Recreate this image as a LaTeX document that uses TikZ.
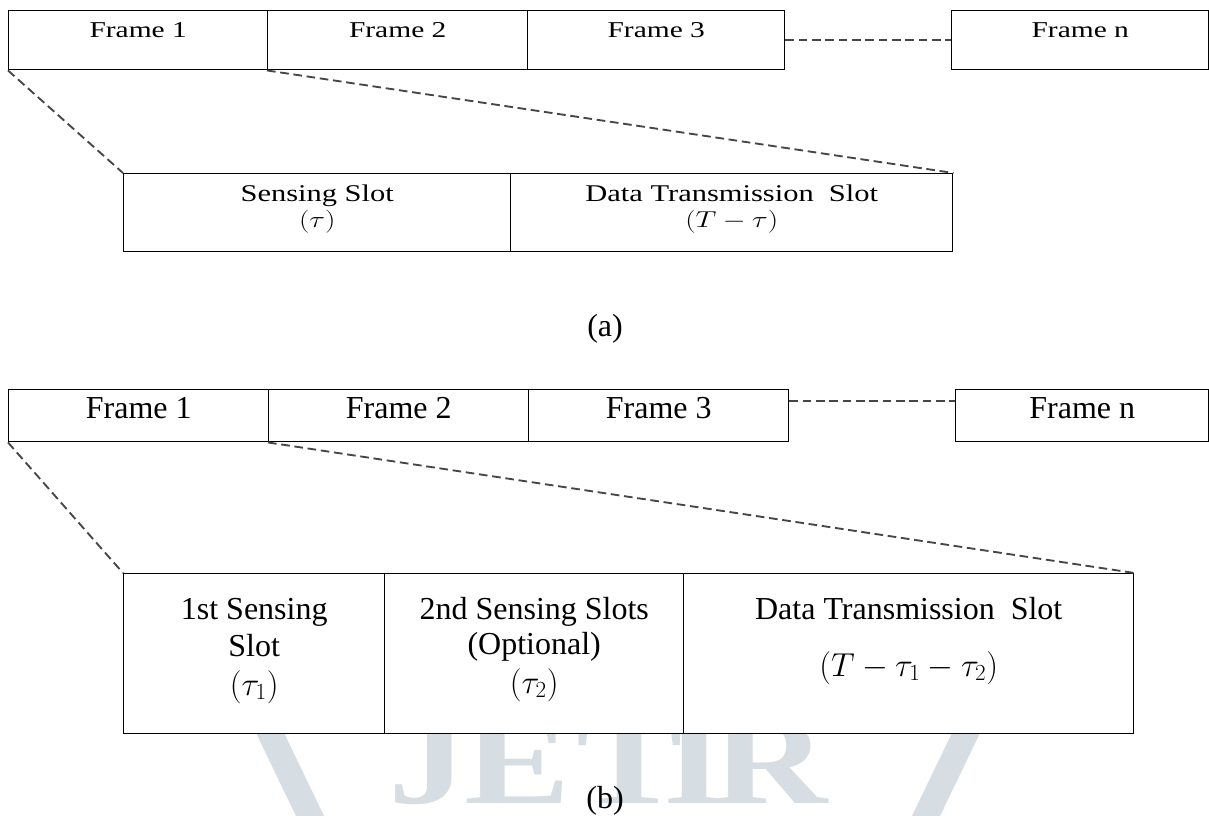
\documentclass[tikz,border=0pt]{standalone}
\usepackage{fontspec}
\usepackage{graphicx}
\setmainfont{Liberation Serif}
\usetikzlibrary{calc}
\definecolor{wmgray}{RGB}{214,222,228}
\definecolor{dashgray}{RGB}{70,70,70}
\newcommand{\widea}[1]{\scalebox{1.3}[1]{#1}}
\newcommand{\wideb}[1]{\scalebox{1.27}[1]{#1}}
\newcommand{\widewm}[1]{\scalebox{1.3}[1]{#1}}
\begin{document}
\begin{tikzpicture}[x=0.75pt,y=-0.75pt,
  box/.style 2 args={draw=black, line width=1.1pt, fill=white, inner sep=0pt,
    anchor=north west, minimum width={#1*0.75pt}, minimum height={#2*0.75pt}},
  link/.style={draw=dashgray, line width=1.4pt, dash pattern=on 6.5pt off 3.5pt},
  lblf/.style={font=\fontsize{17}{20}\selectfont, inner sep=0pt, anchor=base},
  lbls/.style={font=\fontsize{18}{21}\selectfont, inner sep=0pt, anchor=base},
  lblb/.style={font=\fontsize{24}{28}\selectfont, inner sep=0pt, anchor=base},
  wmletter/.style={text=wmgray, inner sep=0pt, anchor=base,
    font=\fontsize{92}{92}\selectfont\bfseries},
  wmbracket/.style={draw=wmgray, line width=19pt, line join=miter}]
\useasboundingbox (0,0) rectangle (1209,816);

% watermark, behind the slot boxes of (b)
\node[wmletter] (wmJ) at (428,803) {\widewm{J}};
\node[wmletter] (wmE) at (518,803) {\widewm{E}};
\node[wmletter] (wmT) at (630,803) {\widewm{T}};
\node[wmletter] (wmI) at (695,803) {\widewm{I}};
\node[wmletter] (wmR) at (770,803) {\widewm{R}};
\draw[wmbracket] (324,625) -- (271,735) -- (324,845);
\draw[wmbracket] (912,625) -- (965,735) -- (912,845);

% ---------------- (a) ----------------
\node[box={259}{59}] (fa1) at (8,10) {};
\node[box={260}{59}] (fa2) at (267,10) {};
\node[box={257}{59}] (fa3) at (527,10) {};
\node[box={257}{59}] (fan) at (951,10) {};

\node[box={387}{78}] (sa1) at (123,173) {};
\node[box={442}{78}] (sa2) at (510,173) {};

\draw[link] (fa3.east) -- (fan.west);
\draw[link] (fa1.south west) -- (sa1.north west);
\draw[link] (fa2.south west) -- (sa2.north east);

\node[lblf] (fa1t) at ($(fa1.north)+(0,28)$) {\widea{Frame 1}};
\node[lblf] (fa2t) at ($(fa2.north)+(0,28)$) {\widea{Frame 2}};
\node[lblf] (fa3t) at ($(fa3.north)+(0,28)$) {\widea{Frame 3}};
\node[lblf] (fant) at ($(fan.north)+(0,28)$) {\widea{Frame n}};

\node[lbls] (sa1t) at ($(sa1.north)+(0,29)$) {\wideb{Sensing Slot}};
\node[lbls] (sa1m) at ($(sa1.north)+(0,55)$) {\wideb{$(\tau)$}};
\node[lbls] (sa2t) at ($(sa2.north)+(0,29)$) {\wideb{Data Transmission\ \ Slot}};
\node[lbls] (sa2m) at ($(sa2.north)+(0,55)$) {\wideb{$(T-\tau)$}};

\node[lblb] (capa) at (605,337) {(a)};

% ---------------- (b) ----------------
\node[box={260}{52}] (fb1) at (8,389) {};
\node[box={260}{52}] (fb2) at (268,389) {};
\node[box={260}{52}] (fb3) at (528,389) {};
\node[box={253}{52}] (fbn) at (955,389) {};

\node[box={261}{160}] (sb1) at (123,573) {};
\node[box={299}{160}] (sb2) at (384,573) {};
\node[box={450}{160}] (sb3) at (683,573) {};

\coordinate (gb3) at ($(fb3.east)+(0,-15)$);
\coordinate (gbn) at ($(fbn.west)+(0,-15)$);
\draw[link] (gb3) -- (gbn);
\draw[link] (fb1.south west) -- (sb1.north west);
\draw[link] (fb2.south west) -- (sb3.north east);

\node[lblb] (fb1t) at ($(fb1.north)+(0,29)$) {Frame 1};
\node[lblb] (fb2t) at ($(fb2.north)+(0,29)$) {Frame 2};
\node[lblb] (fb3t) at ($(fb3.north)+(0,29)$) {Frame 3};
\node[lblb] (fbnt) at ($(fbn.north)+(0,29)$) {Frame n};

\node[lblb] (sb1a) at ($(sb1.north)+(0,46)$) {1st Sensing};
\node[lblb] (sb1b) at ($(sb1.north)+(0,83)$) {Slot};
\node[lblb] (sb1c) at ($(sb1.north)+(0,122)$) {$(\tau_1)$};

\node[lblb] (sb2a) at ($(sb2.north)+(0,46)$) {2nd Sensing Slots};
\node[lblb] (sb2b) at ($(sb2.north)+(0,81)$) {(Optional)};
\node[lblb] (sb2c) at ($(sb2.north)+(0,120)$) {$(\tau_2)$};

\node[lblb] (sb3a) at ($(sb3.north)+(0,46)$) {Data Transmission\ \ Slot};
\node[lblb] (sb3b) at ($(sb3.north)+(0,103)$) {$(T-\tau_1-\tau_2)$};

\node[lblb] (capb) at (605,808) {(b)};
\end{tikzpicture}
\end{document}
